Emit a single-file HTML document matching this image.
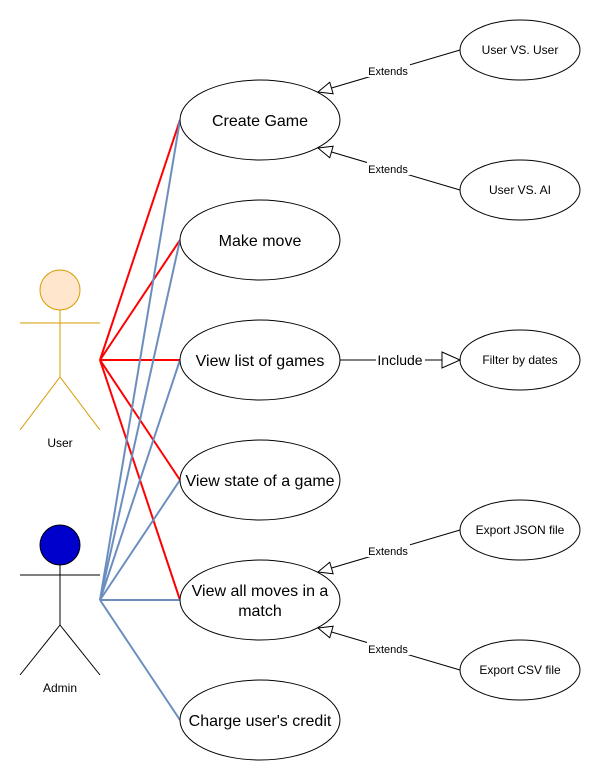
<!DOCTYPE html>
<html><head><style>body{margin:0;background:#fff}svg{display:block}</style></head><body>
<svg width="601" height="781" xmlns="http://www.w3.org/2000/svg" font-family="Liberation Sans, Arial, sans-serif">
<defs>
<marker id="tri" markerWidth="16" markerHeight="14" refX="15" refY="7" orient="auto" markerUnits="userSpaceOnUse">
<path d="M1,1 L15,7 L1,13 Z" fill="#fff" stroke="#000" stroke-width="1"/>
</marker>
<marker id="tri2" markerWidth="20" markerHeight="18" refX="19" refY="9" orient="auto" markerUnits="userSpaceOnUse">
<path d="M1,1 L19,9 L1,17 Z" fill="#fff" stroke="#000" stroke-width="1"/>
</marker>
</defs>
<g stroke="#ff0000" stroke-width="2">
<line x1="100" y1="360" x2="180" y2="120"/>
<line x1="100" y1="360" x2="180" y2="240"/>
<line x1="100" y1="360" x2="180" y2="360"/>
<line x1="100" y1="360" x2="180" y2="480"/>
<line x1="100" y1="360" x2="180" y2="600"/>
</g>
<g stroke="#6c8ebf" stroke-width="2">
<line x1="100" y1="600" x2="180" y2="120"/>
<line x1="100" y1="600" x2="180" y2="240"/>
<line x1="100" y1="600" x2="180" y2="360"/>
<line x1="100" y1="600" x2="180" y2="480"/>
<line x1="100" y1="600" x2="180" y2="600"/>
<line x1="100" y1="600" x2="180" y2="720"/>
</g>
<g stroke="#d79b00" stroke-width="1" fill="none">
<circle cx="60" cy="290" r="20" fill="#ffe6cc"/>
<line x1="60" y1="310" x2="60" y2="377"/>
<line x1="20" y1="323" x2="100" y2="323"/>
<line x1="60" y1="377" x2="20" y2="430"/>
<line x1="60" y1="377" x2="100" y2="430"/>
</g>
<g stroke="#000" stroke-width="1" fill="none">
<circle cx="60" cy="545" r="20" fill="#0000cc"/>
<line x1="60" y1="565" x2="60" y2="625"/>
<line x1="20" y1="575" x2="100" y2="575"/>
<line x1="60" y1="625" x2="20" y2="675"/>
<line x1="60" y1="625" x2="100" y2="675"/>
</g>
<g font-size="12" fill="#000" text-anchor="middle">
<text x="60" y="447">User</text>
<text x="60" y="692">Admin</text>
</g>
<g fill="#fff" stroke="#000" stroke-width="1">
<ellipse cx="260" cy="120" rx="80" ry="40"/>
<ellipse cx="260" cy="240" rx="80" ry="40"/>
<ellipse cx="260" cy="360" rx="80" ry="40"/>
<ellipse cx="260" cy="480" rx="80" ry="40"/>
<ellipse cx="260" cy="600" rx="80" ry="40"/>
<ellipse cx="260" cy="720" rx="80" ry="40"/>
<ellipse cx="520" cy="50" rx="60" ry="30"/>
<ellipse cx="520" cy="190" rx="60" ry="30"/>
<ellipse cx="520" cy="360" rx="60" ry="30"/>
<ellipse cx="520" cy="530" rx="60" ry="30"/>
<ellipse cx="520" cy="670" rx="60" ry="30"/>
</g>
<g font-size="16" fill="#000" text-anchor="middle">
<text x="260" y="126">Create Game</text>
<text x="260" y="246">Make move</text>
<text x="260" y="366">View list of games</text>
<text x="260" y="486">View state of a game</text>
<text x="260" y="596">View all moves in a</text>
<text x="260" y="616">match</text>
<text x="260" y="726">Charge user's credit</text>
</g>
<g font-size="12" fill="#000" text-anchor="middle">
<text x="520" y="54">User VS. User</text>
<text x="520" y="194">User VS. AI</text>
<text x="520" y="364">Filter by dates</text>
<text x="520" y="534">Export JSON file</text>
<text x="520" y="674">Export CSV file</text>
</g>
<g stroke="#000" stroke-width="1" fill="none" marker-end="url(#tri)">
<line x1="460" y1="50" x2="318" y2="92"/>
<line x1="460" y1="190" x2="318" y2="148"/>
<line x1="460" y1="530" x2="318" y2="572"/>
<line x1="460" y1="670" x2="318" y2="628"/>
</g>
<line x1="340" y1="360" x2="460" y2="360" stroke="#000" stroke-width="1" marker-end="url(#tri2)"/>
<g font-size="11" fill="#000" text-anchor="middle">
<rect x="367" y="64" width="43" height="13" fill="#fff"/><text x="388" y="75">Extends</text>
<rect x="367" y="162" width="43" height="13" fill="#fff"/><text x="388" y="173">Extends</text>
<rect x="367" y="544" width="43" height="13" fill="#fff"/><text x="388" y="555">Extends</text>
<rect x="367" y="642" width="43" height="13" fill="#fff"/><text x="388" y="653">Extends</text>
<rect x="376" y="352" width="49" height="16" fill="#fff"/><text x="400" y="365" font-size="14">Include</text>
</g>
</svg>
</body></html>
